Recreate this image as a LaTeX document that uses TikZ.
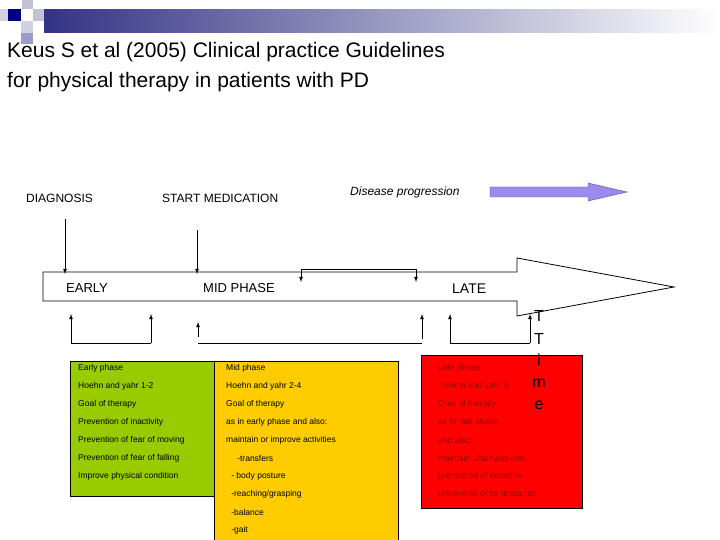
\documentclass[tikz,border=0pt]{standalone}
\usepackage{fontspec}
\setmainfont{Liberation Sans}
\begin{document}
\begin{tikzpicture}[x=1pt,y=-1pt,
  lbl/.style={anchor=west,inner sep=0pt,font=\fontsize{12}{12}\selectfont},
  sm/.style={anchor=west,inner sep=0pt,font=\fontsize{8.5}{9}\selectfont},
  arr/.style={thick,-latex},
  box/.style={draw=black,thick}]
\useasboundingbox (0,0) rectangle (720,540);
% header decoration
\shade[left color=blue!40!black!80, right color=white] (44,10) rectangle (720,33);
\fill[blue!50!black] (8,9) rectangle (21,21);
\fill[blue!20!gray!40] (22,0) rectangle (33,9);
\fill[blue!20!gray!40] (33,9) rectangle (44,21);
\fill[blue!20!gray!30] (21,21) rectangle (33,33);
\fill[blue!30!gray!60] (21,33) rectangle (33,44);
\fill[blue!20!gray!30] (0,9) rectangle (8,21);
% title
\node[anchor=west,inner sep=0pt,font=\fontsize{21}{24}\selectfont] (t1) at (7,52) {Keus S et al (2005) Clinical practice Guidelines};
\node[anchor=west,inner sep=0pt,font=\fontsize{21}{24}\selectfont] (t2) at (7,82) {for physical therapy in patients with PD};
% labels
\node[lbl] (diag) at (26,198) {DIAGNOSIS};
\node[lbl] (med) at (162,198) {START MEDICATION};
\node[lbl,font=\fontsize{12}{12}\selectfont\itshape] (dp) at (350,192) {Disease progression};
% disease arrow
\draw[fill=blue!40!white!90!purple,draw=blue!40!gray] (490,187) -- (588,187) -- (588,183) -- (627,192) -- (588,201) -- (588,197) -- (490,197) -- cycle;
% main arrow
\draw[thick,fill=white] (43,272) -- (517,272) -- (517,258) -- (674,287) -- (517,316) -- (517,301) -- (43,301) -- cycle;
\node[lbl,font=\fontsize{13}{13}\selectfont] (early) at (66,288) {EARLY};
\node[lbl,font=\fontsize{13}{13}\selectfont] (mid) at (203,288) {MID PHASE};
\node[lbl,font=\fontsize{14}{14}\selectfont] (late) at (452,289) {LATE};
% down arrows
\coordinate (d1) at (65,219); \coordinate (d1e) at (65,274);
\draw[arr] (d1) -- (d1e);
\coordinate (d2) at (197,230); \coordinate (d2e) at (197,274);
\draw[arr] (d2) -- (d2e);
\coordinate (b1) at (301,282); \coordinate (b2) at (416,282);
\draw[thick] (301,269) -- (416,269);
\draw[arr] (301,269) -- (b1);
\draw[arr] (416,269) -- (b2);
% up brackets
\coordinate (u1) at (71,314); \coordinate (u2) at (151,314);
\draw[arr] (71,343) -- (u1); \draw[arr] (151,343) -- (u2);
\draw[thick] (71,343) -- (151,343);
\coordinate (u3) at (198,322); \coordinate (u4) at (422,314);
\draw[arr] (198,337) -- (u3); \draw[arr] (422,339) -- (u4);
\draw[thick] (198,343) -- (422,343);
\coordinate (u5) at (450,314); \coordinate (u6) at (530,314);
\draw[arr] (450,343) -- (u5); \draw[arr] (530,343) -- (u6);
\draw[thick] (450,343) -- (530,343);
% boxes
\draw[box,fill={rgb,255:red,153;green,204;blue,0}] (70,361) rectangle (214,496);
\draw[box,fill={rgb,255:red,255;green,204;blue,0}] (214,361) rectangle (398,545);
\draw[box,fill={rgb,255:red,255;green,0;blue,0}] (421,355) rectangle (582,508);
% Time
\foreach \c/\yy/\n in {T/316/ta,T/339/tb,i/360/tc,m/383/td,e/405/te}
  \node[inner sep=0pt,font=\fontsize{16}{16}\selectfont] (\n) at (539,\yy) {\c};
% green text
\foreach \t [count=\i from 0] in {Early phase,Hoehn and yahr 1-2,Goal of therapy,Prevention of inactivity,Prevention of fear of moving,Prevention of fear of falling,Improve physical condition}
  \node[sm] (g\i) at (78,368+18*\i) {\t};
% yellow text
\foreach \t [count=\i from 0] in {Mid phase,Hoehn and yahr 2-4,Goal of therapy,as in early phase and also:,maintain or improve activities,\hspace{1.3em}-transfers,\hspace{0.6em}- body posture,\hspace{0.6em}-reaching/grasping,\hspace{0.6em}-balance,\hspace{0.6em}-gait}
  \node[sm] (y\i) at (226,368+18*\i) {\t};
% red text
\foreach \t [count=\i from 0] in {Late phase,\hspace{0.3em}Hoehn and yahr 5,Goal of therapy,as in mid phase, and also:,maintain vital functions,prevention of decubits,prevention of contractures}
  \node[sm,text={rgb,255:red,150;green,0;blue,0}] (r\i) at (438,368+18*\i) {\t};
\end{tikzpicture}
\end{document}
